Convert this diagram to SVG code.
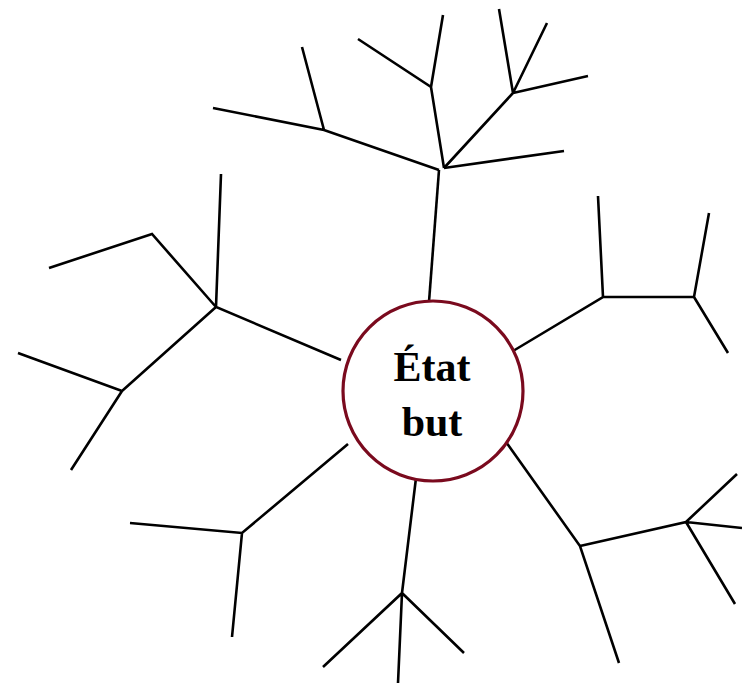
<svg xmlns="http://www.w3.org/2000/svg" width="742" height="683" viewBox="0 0 742 683">
<style>
.l{fill:none;stroke:#000;stroke-width:2.6;stroke-linecap:butt;stroke-linejoin:miter}
.c{fill:#fff;stroke:#7a0a1e;stroke-width:3.2}
.t{font-family:"Liberation Serif","Times New Roman",serif;font-weight:bold;font-size:42px;fill:#000;text-anchor:middle}
</style>
<rect width="742" height="683" fill="#fff"/>
<g id="connectors">
<g id="branch-top">
<path class="l" d="M429,302 L439,170"/>
<path class="l" d="M439,170 L324,130 L213,108 M324,130 L302,47"/>
<path class="l" d="M444,168 L431,87 L358,39 M431,87 L443,15"/>
<path class="l" d="M444,168 L513,93 L499,9 M513,93 L547,23 M513,93 L588,76"/>
<path class="l" d="M444,168 L564,151"/>
</g>
<g id="branch-left">
<path class="l" d="M341,360 L216,307 L221,174 M216,307 L152,234 L49,268 M216,307 L122,391 L18,353 M122,391 L71,470"/>
</g>
<g id="branch-right">
<path class="l" d="M513,351 L603,297 L598,196 M603,297 L694,297 L709,213 M694,297 L728,353"/>
</g>
<g id="branch-bottom-left">
<path class="l" d="M348,444 L242,533 L130,523 M242,533 L232,637"/>
</g>
<g id="branch-bottom">
<path class="l" d="M416,478 L402,593 L323,667 M402,593 L398,683 M402,593 L464,653"/>
</g>
<g id="branch-bottom-right">
<path class="l" d="M506,442 L580,546 L619,663 M580,546 L686,522 L737,474 M686,522 L742,528 M686,522 L735,604"/>
</g>
</g>
<g id="goal">
<circle class="c" cx="433" cy="391" r="90"/>
<text class="t" x="432" y="381">État</text>
<text class="t" x="432" y="436">but</text>
</g>
</svg>
